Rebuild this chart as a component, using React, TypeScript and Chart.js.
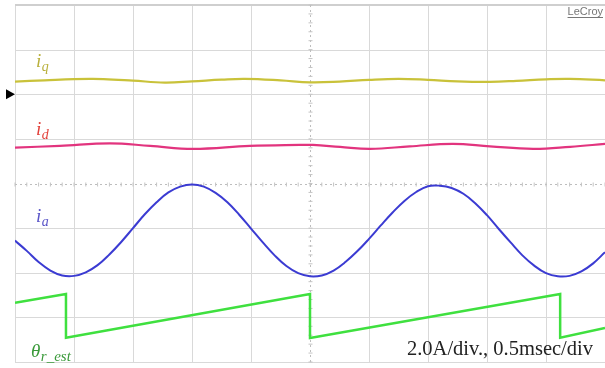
import React, { useEffect, useRef } from "react";
import { Chart, registerables } from "chart.js";

Chart.register(...registerables);

// time axis in divisions (0.5 ms/div), values in divisions (2.0 A/div)
const iaTime = [0, 0.2, 0.4, 0.6, 0.8, 1.0, 1.2, 1.4, 1.6, 1.8, 2.0, 2.2, 2.4, 2.6, 2.8, 3.0, 3.2, 3.4, 3.6, 3.8, 4.0, 4.2, 4.4, 4.6, 4.8, 5.0, 5.2, 5.4, 5.6, 5.8, 6.0, 6.2, 6.4, 6.6, 6.8, 7.0, 7.2, 7.4, 7.6, 7.8, 8.0, 8.2, 8.4, 8.6, 8.8, 9.0, 9.2, 9.4, 9.6, 9.8, 10.0];
const iaValues = [2.72, 2.49, 2.24, 2.05, 1.94, 1.93, 2.01, 2.17, 2.41, 2.69, 3.0, 3.31, 3.58, 3.8, 3.93, 3.98, 3.93, 3.79, 3.58, 3.3, 2.99, 2.68, 2.39, 2.15, 1.99, 1.92, 1.94, 2.05, 2.24, 2.48, 2.76, 3.06, 3.35, 3.61, 3.81, 3.94, 3.95, 3.9, 3.77, 3.56, 3.29, 2.98, 2.68, 2.39, 2.16, 1.99, 1.92, 1.93, 2.03, 2.21, 2.46];

const iqTime = [0, 0.5, 1, 1.27, 1.5, 2, 2.54, 3, 3.5, 3.9, 4.5, 5, 5.5, 6, 6.5, 7, 7.5, 8.05, 8.5, 9, 9.4, 10];
const iqValues = [6.285, 6.312, 6.339, 6.345, 6.341, 6.305, 6.262, 6.289, 6.327, 6.345, 6.312, 6.267, 6.283, 6.323, 6.345, 6.323, 6.289, 6.278, 6.3, 6.334, 6.345, 6.312];

const idTime = [0, 0.76, 1.61, 2.29, 3.02, 3.98, 4.83, 5.05, 5.51, 6.02, 6.69, 7.42, 8.05, 8.78, 9.41, 10];
const idValues = [4.805, 4.843, 4.899, 4.843, 4.776, 4.843, 4.865, 4.865, 4.821, 4.776, 4.832, 4.888, 4.832, 4.776, 4.821, 4.888];

const thetaTime = [0, 0.864, 0.864, 5.0, 5.0, 9.24, 9.24, 10];
const thetaValues = [1.33, 1.525, 0.545, 1.525, 0.54, 1.525, 0.545, 0.76];

const xDivs = 10;
const yDivs = 8;
const scaleText = "2.0A/div., 0.5msec/div";
const brandText = "LeCroy";

const pts = (t: number[], v: number[]) => t.map((x, i) => ({ x, y: v[i] }));

const scopePlugin = {
  id: "scope",
  beforeDatasetsDraw(chart: any) {
    const { ctx, chartArea: a, scales } = chart;
    const xs = scales.x;
    const ys = scales.y;
    ctx.save();
    ctx.fillStyle = "#ffffff";
    ctx.fillRect(0, 0, chart.width, chart.height);
    ctx.strokeStyle = "#d9d9d9";
    ctx.lineWidth = 1;
    for (let i = 0; i <= xDivs; i++) {
      if (i === 5) continue;
      const px = Math.round(xs.getPixelForValue(i)) + 0.5;
      ctx.beginPath();
      ctx.moveTo(px, a.top);
      ctx.lineTo(px, a.bottom);
      ctx.stroke();
    }
    for (let j = 0; j <= yDivs; j++) {
      if (j === 4) continue;
      const py = Math.round(ys.getPixelForValue(j)) + 0.5;
      ctx.beginPath();
      ctx.moveTo(a.left, py);
      ctx.lineTo(a.right, py);
      ctx.stroke();
    }
    // top border
    ctx.strokeStyle = "#cfcfcf";
    ctx.lineWidth = 2;
    ctx.beginPath();
    ctx.moveTo(a.left, a.top);
    ctx.lineTo(a.right, a.top);
    ctx.stroke();
    // center dotted lines with minor ticks
    ctx.strokeStyle = "#bdbdbd";
    ctx.lineWidth = 1;
    ctx.setLineDash([2, 3]);
    const cx = Math.round(xs.getPixelForValue(5)) + 0.5;
    const cy = Math.round(ys.getPixelForValue(4)) + 0.5;
    ctx.beginPath();
    ctx.moveTo(cx, a.top);
    ctx.lineTo(cx, a.bottom);
    ctx.moveTo(a.left, cy);
    ctx.lineTo(a.right, cy);
    ctx.stroke();
    ctx.setLineDash([]);
    ctx.strokeStyle = "#c4c4c4";
    for (let k = 0; k <= xDivs * 5; k++) {
      const px = xs.getPixelForValue(k / 5);
      ctx.beginPath();
      ctx.moveTo(px, cy - 2);
      ctx.lineTo(px, cy + 2);
      ctx.stroke();
    }
    for (let k = 0; k <= yDivs * 5; k++) {
      const py = ys.getPixelForValue(k / 5);
      ctx.beginPath();
      ctx.moveTo(cx - 2, py);
      ctx.lineTo(cx + 2, py);
      ctx.stroke();
    }
    ctx.restore();
  },
  afterDraw(chart: any) {
    const { ctx, scales } = chart;
    const ys = scales.y;
    ctx.save();
    // ground marker
    const my = ys.getPixelForValue(6);
    ctx.fillStyle = "#000000";
    ctx.beginPath();
    ctx.moveTo(6, my - 5);
    ctx.lineTo(15, my);
    ctx.lineTo(6, my + 5);
    ctx.closePath();
    ctx.fill();

    const label = (main: string, sub: string, x: number, y: number, color: string, subSize: number) => {
      ctx.fillStyle = color;
      ctx.textBaseline = "alphabetic";
      ctx.textAlign = "left";
      ctx.font = "italic 19px 'Liberation Serif', serif";
      ctx.fillText(main, x, y);
      const w = ctx.measureText(main).width;
      ctx.font = `italic ${subSize}px 'Liberation Serif', serif`;
      ctx.fillText(sub, x + w + 0.5, y + 4);
    };
    label("i", "q", 36, 67, "#b9b03c", 14);
    label("i", "d", 36, 135, "#e2403a", 14);
    label("i", "a", 36, 222, "#5a55c8", 14);
    label("\u03b8", "r_est", 31, 357, "#3a9a3a", 15);

    ctx.fillStyle = "#222222";
    ctx.font = "20.5px 'Liberation Serif', serif";
    ctx.textAlign = "right";
    ctx.fillText(scaleText, 593, 355);

    ctx.fillStyle = "#777777";
    ctx.font = "11px 'Liberation Sans', sans-serif";
    ctx.textAlign = "right";
    ctx.fillText(brandText, 603, 15);
    const bw = ctx.measureText(brandText).width;
    ctx.fillRect(603 - bw, 17, bw, 1);
    ctx.restore();
  },
};

export default function App() {
  const ref = useRef<HTMLCanvasElement>(null);
  useEffect(() => {
    document.body.style.margin = "0";
    const canvas = ref.current!;
    const line = (label: string, data: any, color: string, width: number) => ({
      label,
      data,
      borderColor: color,
      backgroundColor: color,
      borderWidth: width,
      pointRadius: 0,
      tension: 0.4,
      fill: false,
    });
    const chart = new Chart(canvas, {
      type: "line",
      data: {
        datasets: [
          line("iq", pts(iqTime, iqValues), "#c9c23a", 2.2),
          line("id", pts(idTime, idValues), "#e2347e", 2.2),
          line("ia", pts(iaTime, iaValues), "#3b3bd2", 2),
          { ...line("theta", pts(thetaTime, thetaValues), "#3fe03f", 2.5), tension: 0 },
        ],
      },
      options: {
        animation: false,
        responsive: true,
        maintainAspectRatio: false,
        layout: { padding: { left: 15, right: 0, top: 5, bottom: 6 } },
        plugins: { legend: { display: false }, tooltip: { enabled: false } },
        scales: {
          x: { type: "linear", min: 0, max: xDivs, display: false },
          y: { type: "linear", min: 0, max: yDivs, display: false },
        },
      },
      plugins: [scopePlugin],
    });
    return () => chart.destroy();
  }, []);
  return (
    <div style={{ position: "relative", width: 605, height: 368 }}>
      <canvas ref={ref} />
    </div>
  );
}
